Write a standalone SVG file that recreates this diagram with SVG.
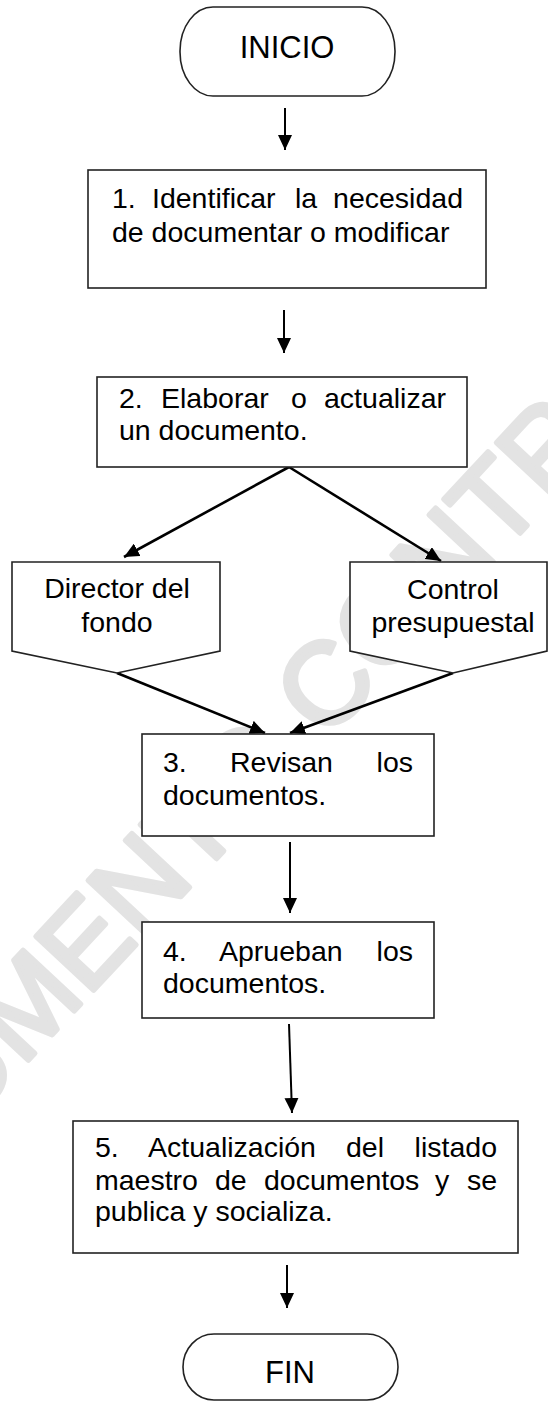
<svg xmlns="http://www.w3.org/2000/svg" width="548" height="1407" viewBox="0 0 548 1407">
<style>
.bg{fill:#ffffff}
.wm{font-family:"Liberation Sans",Arial,sans-serif;font-size:115px;fill:#e3e3e3;stroke:#e3e3e3;stroke-width:5;stroke-linejoin:round;stroke-linecap:round}
.box{fill:#ffffff;stroke:#222222;stroke-width:1.6}
.t{font-family:"Liberation Sans",Arial,sans-serif;font-size:28.5px;fill:#000000}
.tc{font-family:"Liberation Sans",Arial,sans-serif;font-size:28.5px;fill:#000000;text-anchor:middle}
.term{font-family:"Liberation Sans",Arial,sans-serif;font-size:31px;fill:#000000;text-anchor:middle}
.e{text-anchor:end}
.c{fill:none;stroke:#000000;stroke-width:2}
.d{fill:none;stroke:#000000;stroke-width:2.6}
</style>
<defs>
<marker id="ah" viewBox="0 0 15 14" markerWidth="15" markerHeight="14" refX="15" refY="7" orient="auto" markerUnits="userSpaceOnUse">
<path d="M0,0 L15,7 L0,14 Z" fill="#000000"/>
</marker>
</defs>
<rect class="bg" x="0" y="0" width="548" height="1407"/>
<g id="watermark">
<text class="wm" transform="translate(-209,1315) rotate(-47)" x="0" y="0">DOCUMENTO CONTROLADO</text>
</g>
<g id="connectors">
<line class="c" x1="285" y1="108" x2="285" y2="150" marker-end="url(#ah)"/>
<line class="c" x1="284" y1="310" x2="284" y2="353" marker-end="url(#ah)"/>
<line class="d" x1="289" y1="467" x2="124" y2="557" marker-end="url(#ah)"/>
<line class="d" x1="289" y1="467" x2="441" y2="561" marker-end="url(#ah)"/>
<line class="d" x1="117" y1="673" x2="265" y2="733" marker-end="url(#ah)"/>
<line class="d" x1="453" y1="673" x2="290" y2="733" marker-end="url(#ah)"/>
<line class="c" x1="290" y1="842" x2="290" y2="913" marker-end="url(#ah)"/>
<line class="c" x1="289" y1="1024" x2="292" y2="1113" marker-end="url(#ah)"/>
<line class="c" x1="287" y1="1265" x2="287" y2="1308" marker-end="url(#ah)"/>
</g>
<g id="inicio">
<rect class="box" x="180" y="7" width="215" height="89" rx="33" ry="44"/>
<text class="term" x="287" y="58">INICIO</text>
</g>
<g id="step1">
<rect class="box" x="88" y="170" width="398" height="118"/>
<text class="t" y="208"><tspan x="112">1.</tspan><tspan x="152">Identificar</tspan><tspan x="295">la</tspan><tspan x="463" class="e">necesidad</tspan></text>
<text class="t" x="112" y="242">de documentar o modificar</text>
</g>
<g id="step2">
<rect class="box" x="97" y="377" width="370" height="90"/>
<text class="t" y="408"><tspan x="119">2.</tspan><tspan x="161">Elaborar</tspan><tspan x="291">o</tspan><tspan x="446" class="e">actualizar</tspan></text>
<text class="t" x="119" y="440">un documento.</text>
</g>
<g id="director">
<path class="box" d="M12,562 H220 V651 L117,673 L12,651 Z"/>
<text class="tc" x="117" y="598">Director del</text>
<text class="tc" x="117" y="632">fondo</text>
</g>
<g id="control">
<path class="box" d="M350,562 H547 V651 L453,673 L350,651 Z"/>
<text class="tc" x="453" y="599">Control</text>
<text class="tc" x="453" y="632">presupuestal</text>
</g>
<g id="step3">
<rect class="box" x="142" y="734" width="292" height="102"/>
<text class="t" y="772"><tspan x="163">3.</tspan><tspan x="230">Revisan</tspan><tspan x="413" class="e">los</tspan></text>
<text class="t" x="163" y="805">documentos.</text>
</g>
<g id="step4">
<rect class="box" x="142" y="922" width="292" height="96"/>
<text class="t" y="961"><tspan x="163">4.</tspan><tspan x="219">Aprueban</tspan><tspan x="413" class="e">los</tspan></text>
<text class="t" x="163" y="993">documentos.</text>
</g>
<g id="step5">
<rect class="box" x="73" y="1121" width="445" height="132"/>
<text class="t" y="1157"><tspan x="95">5.</tspan><tspan x="148">Actualización</tspan><tspan x="346">del</tspan><tspan x="497" class="e">listado</tspan></text>
<text class="t" y="1190"><tspan x="95">maestro</tspan><tspan x="215">de</tspan><tspan x="264">documentos</tspan><tspan x="435">y</tspan><tspan x="497" class="e">se</tspan></text>
<text class="t" x="95" y="1221">publica y socializa.</text>
</g>
<g id="fin">
<rect class="box" x="183" y="1334" width="215" height="66" rx="31" ry="33"/>
<text class="term" x="290" y="1383">FIN</text>
</g>
</svg>
